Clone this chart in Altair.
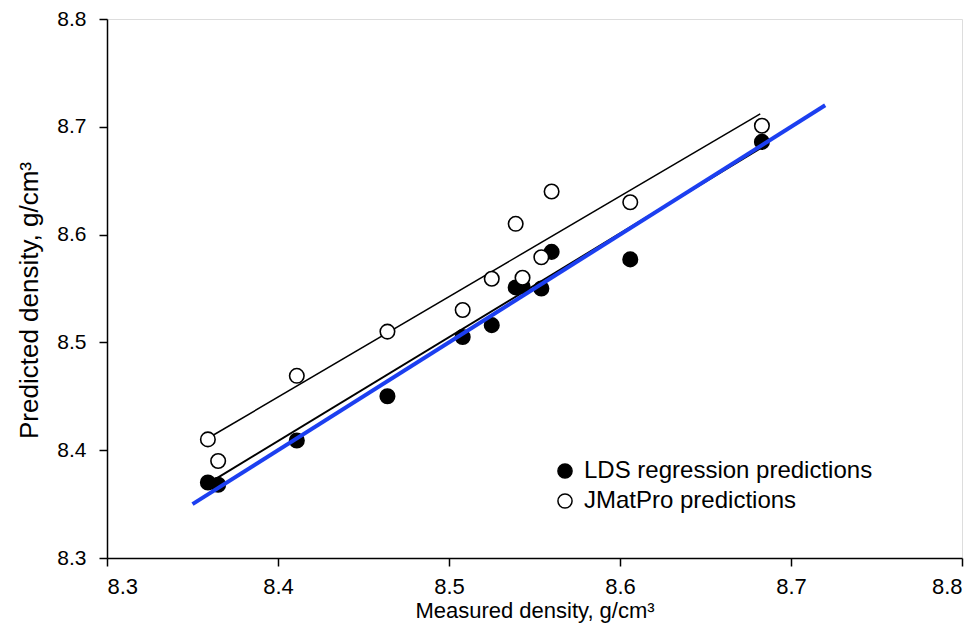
import altair as alt
import pandas as pd

# Measured density (g/cm3) for each alloy
measured = [8.359, 8.365, 8.411, 8.464, 8.508, 8.525, 8.539, 8.543, 8.554, 8.560, 8.606, 8.683]
# LDS regression predictions
lds_pred = [8.370, 8.368, 8.409, 8.450, 8.505, 8.516, 8.551, 8.552, 8.550, 8.584, 8.577, 8.686]
# JMatPro predictions
jmat_pred = [8.410, 8.390, 8.469, 8.510, 8.530, 8.559, 8.610, 8.560, 8.579, 8.640, 8.630, 8.701]

series_names = ["LDS regression predictions", "JMatPro predictions"]

# Fit lines (end points)
jmat_fit_x = [8.360, 8.682]
jmat_fit_y = [8.412, 8.712]
lds_fit_x = [8.360, 8.683]
lds_fit_y = [8.370, 8.681]
# 1:1 line
ideal_x = [8.35, 8.72]
ideal_y = [8.35, 8.72]

ticks = [8.3, 8.4, 8.5, 8.6, 8.7, 8.8]

pts = pd.DataFrame(
    {"x": measured + measured,
     "y": lds_pred + jmat_pred,
     "series": [series_names[0]] * len(measured) + [series_names[1]] * len(measured)}
)
jfit = pd.DataFrame({"x": jmat_fit_x, "y": jmat_fit_y})
lfit = pd.DataFrame({"x": lds_fit_x, "y": lds_fit_y})
ideal = pd.DataFrame({"x": ideal_x, "y": ideal_y})

FONT = "Liberation Sans"

xs = alt.Scale(domain=[8.3, 8.8], nice=False, zero=False)
ys = alt.Scale(domain=[8.3, 8.8], nice=False, zero=False)

xax = alt.Axis(values=ticks, format=".1f", title="Measured density, g/cm³", grid=False,
               labelFontSize=22, titleFontSize=22, titleFontWeight="normal",
               labelFont=FONT, titleFont=FONT, labelColor="black", titleColor="black",
               tickColor="black", domainColor="black", tickSize=8, tickWidth=1.5,
               domainWidth=1.5, labelPadding=10, titlePadding=3)
yax = alt.Axis(values=ticks, format=".1f", title="Predicted density, g/cm³", grid=False,
               labelFontSize=21, titleFontSize=26, titleFontWeight="normal",
               labelFont=FONT, titleFont=FONT, labelColor="black", titleColor="black",
               tickColor="black", domainColor="black", tickSize=8, tickWidth=1.5,
               domainWidth=1.5, labelPadding=13, titlePadding=14, titleY=281)

jline = alt.Chart(jfit).mark_line(color="black", strokeWidth=1.5).encode(
    x=alt.X("x:Q", scale=xs, axis=xax), y=alt.Y("y:Q", scale=ys, axis=yax))
lline = alt.Chart(lfit).mark_line(color="black", strokeWidth=2).encode(
    x=alt.X("x:Q", scale=xs), y=alt.Y("y:Q", scale=ys))

points = alt.Chart(pts).mark_point(filled=True, size=210, stroke="black", strokeWidth=1.6, opacity=1).encode(
    x=alt.X("x:Q", scale=xs),
    y=alt.Y("y:Q", scale=ys),
    fill=alt.Fill("series:N",
                  scale=alt.Scale(domain=series_names, range=["black", "white"]),
                  legend=alt.Legend(title=None, orient="none", legendX=446, legendY=440,
                                    labelFontSize=24, labelFont=FONT, labelColor="black",
                                    symbolSize=200, symbolStrokeColor="black", symbolStrokeWidth=1.5,
                                    symbolType="circle", rowPadding=6, labelOffset=7,
                                    labelLimit=400)),
)

iline = alt.Chart(ideal).mark_line(color="#1c3ff0", strokeWidth=4).encode(
    x=alt.X("x:Q", scale=xs), y=alt.Y("y:Q", scale=ys))

chart = alt.layer(jline, lline, points, iline).properties(
    width=855, height=539,
    autosize=alt.AutoSizeParams(type="none"),
    padding={"left": 99, "top": 11, "right": 8, "bottom": 66},
).configure_view(stroke="black", strokeWidth=1.5).configure(background="white")

chart.save("out.html", embed_options={"renderer": "svg", "actions": False})
